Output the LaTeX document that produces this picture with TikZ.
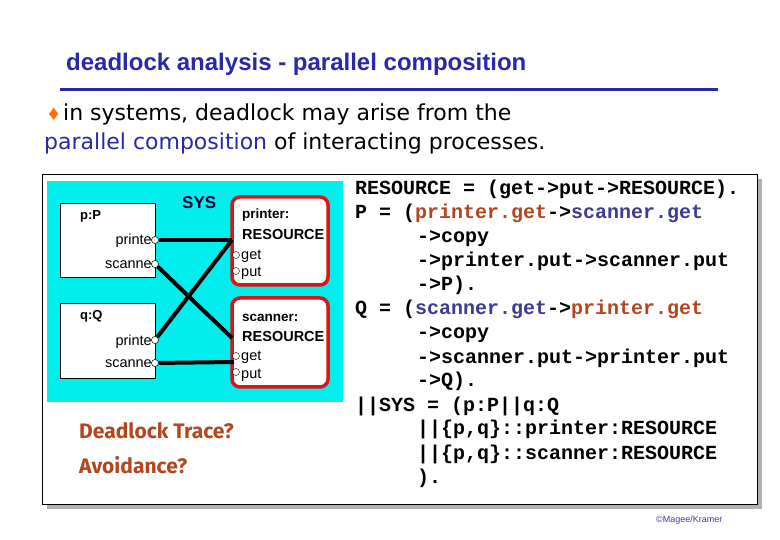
\documentclass[tikz,border=0pt]{standalone}
\usepackage{fontspec}
\setmainfont{Liberation Sans}
\newfontfamily\codef{Liberation Mono}
\newfontfamily\bodyf{DejaVu Sans}
\newfontfamily\comicf{Fira Sans}
\definecolor{ttl}{RGB}{40,40,170}
\definecolor{cyanbg}{RGB}{0,238,238}
\definecolor{resred}{RGB}{220,20,20}
\definecolor{brn}{RGB}{180,70,30}
\definecolor{blu}{RGB}{60,60,150}
\begin{document}
\begin{tikzpicture}[x=1pt,y=-1pt,
  proc/.style={draw=black,fill=white,line width=0.5pt},
  res/.style={draw=resred,fill=white,line width=3.5pt,rounded corners=8pt},
  port/.style={circle,draw=black,fill=white,inner sep=0pt,minimum size=7pt},
  lab/.style={inner sep=0pt,anchor=base west,font=\fontsize{14.5}{14}\selectfont},
  blab/.style={lab,font=\fontsize{13}{12}\selectfont\bfseries},
  wire/.style={line width=4pt,black},
  code/.style={inner sep=0pt,anchor=base west,font=\codef\fontsize{20}{18}\selectfont\bfseries},
  q/.style={inner sep=0pt,anchor=base west,text=brn,font=\comicf\fontsize{21}{19}\selectfont\bfseries}]
\useasboundingbox (0,0) rectangle (780,540);
% title
\node[inner sep=0pt,anchor=base west,text=ttl,font=\fontsize{24}{24}\selectfont\bfseries] (title) at (66,71) {deadlock analysis - parallel composition};
\draw[ttl,line width=3pt] (60,90) coordinate (u1) -- (718,90) coordinate (u2);
\node[inner sep=0pt,anchor=base west,text=orange!90!red,font=\bodyf\fontsize{17}{16}\selectfont] (bul) at (46,121) {♦};
\node[inner sep=0pt,anchor=base west,font=\bodyf\fontsize{22}{20}\selectfont] (l1) at (63,121) {in systems, deadlock may arise from the};
\node[inner sep=0pt,anchor=base west,font=\bodyf\fontsize{22}{20}\selectfont] (l2) at (44,150) {\textcolor{ttl}{parallel composition} of interacting processes.};
% frame with shadow
\fill[gray!60] (47,179) rectangle (762,509);
\draw[fill=white,line width=0.8pt] (42,174) rectangle (757,504);
\fill[cyanbg] (47,181) rectangle (343,402);
% processes
\draw[proc] (60,203) rectangle (155,277);
\draw[proc] (60,303) rectangle (155,378);
\draw[res] (232,197) rectangle (328,285);
\draw[res] (232,298) rectangle (328,387);
\node[blab] (pP) at (80,220) {p:P};
\node[blab] (qQ) at (80,320) {q:Q};
\node[inner sep=0pt,anchor=base west,font=\fontsize{17}{16}\selectfont\bfseries,text=black!80!blue] (sys) at (182,209) {SYS};
\node[lab,anchor=base east] at (152,245) {printe};
\node[lab,anchor=base east] at (152,269) {scanne};
\node[lab,anchor=base east] at (152,345) {printe};
\node[lab,anchor=base east] at (152,368) {scanne};
\node[blab,font=\fontsize{13.5}{12}\selectfont\bfseries] (pr1) at (242,219) {printer:};
\node[blab,font=\fontsize{14.5}{13}\selectfont\bfseries] (pr2) at (242,240) {RESOURCE};
\node[blab,font=\fontsize{13.5}{12}\selectfont\bfseries] (sc1) at (242,322) {scanner:};
\node[blab,font=\fontsize{14.5}{13}\selectfont\bfseries] (sc2) at (242,342) {RESOURCE};
\node[lab] at (241,260) {get};
\node[lab] at (241,277) {put};
\node[lab] at (241,361) {get};
\node[lab] at (241,378) {put};
\node[port] (pp) at (155,240) {};
\node[port] (ps) at (155,264) {};
\node[port] (qp) at (155,340) {};
\node[port] (qs) at (155,363) {};
\coordinate (pin) at (232,240);
\coordinate (sin) at (232,338);
\coordinate (sgin) at (234,362);
\draw[wire] (pp) -- (pin);
\draw[wire] (ps) -- (sin);
\draw[wire] (qp) -- (pin);
\draw[wire] (qs) -- (sgin);
\node[port] at (155,240) {};
\node[port] at (155,264) {};
\node[port] at (155,340) {};
\node[port] at (155,363) {};
\node[port] (rpg) at (236,255) {};
\node[port] (rpp) at (236,271) {};
\node[port] (rsg) at (236,356) {};
\node[port] (rsp) at (236,372) {};
\node[q] (dt) at (79,438) {Deadlock Trace?};
\node[q] (av) at (79,473) {Avoidance?};
% code
\node[code] (c1) at (355,195) {RESOURCE = (get->put->RESOURCE).};
\node[code] (c2) at (355,219) {P = (\textcolor{brn}{printer.get}->\textcolor{blu}{scanner.get}};
\node[code] (c3) at (417,243) {->copy};
\node[code] (c4) at (417,267) {->printer.put->scanner.put};
\node[code] (c5) at (417,291) {->P).};
\node[code] (c6) at (355,315) {Q = (\textcolor{blu}{scanner.get}->\textcolor{brn}{printer.get}};
\node[code] (c7) at (417,339) {->copy};
\node[code] (c8) at (417,363) {->scanner.put->printer.put};
\node[code] (c9) at (417,387) {->Q).};
\node[code] (c10) at (355,411) {||SYS = (p:P||q:Q};
\node[code] (c11) at (417,435) {||\{p,q\}::printer:RESOURCE};
\node[code] (c12) at (417,459) {||\{p,q\}::scanner:RESOURCE};
\node[code] (c13) at (417,483) {).};
\node[inner sep=0pt,anchor=base west,text=blu,font=\fontsize{9}{9}\selectfont] (cp) at (656,522) {©Magee/Kramer};
\end{tikzpicture}
\end{document}
